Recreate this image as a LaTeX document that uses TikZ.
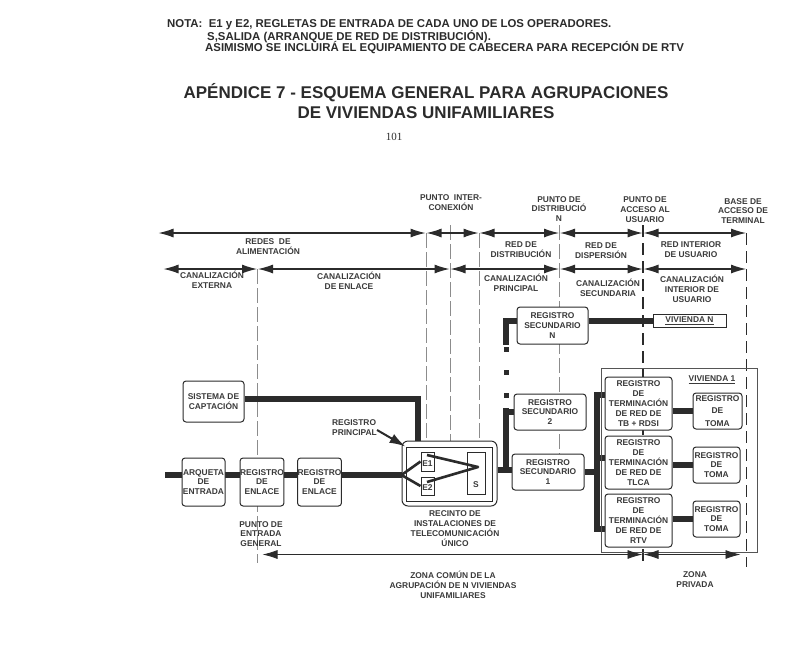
\documentclass[tikz,border=0pt]{standalone}
\usepackage{fontspec}
\setmainfont{Liberation Sans}
\newfontfamily\numfont{Liberation Serif}
\definecolor{inkdark}{HTML}{2B2B2B}
\definecolor{inktext}{HTML}{3A3A3A}
\definecolor{inkthin}{HTML}{8C8C8C}
\usetikzlibrary{arrows.meta,positioning,backgrounds}
\begin{document}
\begin{tikzpicture}[
  x=1pt,y=-1pt,
  lbl/.style={inner sep=0,align=center,text=inktext,font=\fontsize{8.4}{9.9}\selectfont\bfseries},
  regbox/.style 2 args={draw=inkdark,line width=1,rounded corners=3,fill=white,inner sep=0,align=center,
    minimum width=#1,minimum height=#2,text=inktext,font=\fontsize{8.4}{9.9}\selectfont\bfseries},
  sqbox/.style 2 args={draw=inkdark,line width=1,fill=white,inner sep=0,align=center,
    minimum width=#1,minimum height=#2,text=inktext,font=\fontsize{8.4}{9.9}\selectfont\bfseries},
  note/.style={anchor=west,inner sep=0,text=inkdark,font=\fontsize{11.4}{13}\selectfont\bfseries},
  head/.style={inner sep=0,align=center,text=inkdark,font=\fontsize{17}{20}\selectfont\bfseries},
  wire/.style={line width=5.5,inkdark},
  feed/.style={line width=2.6,inkdark,line join=round},
  dot/.style={fill=inkdark,inner sep=0,minimum size=5},
  dim/.style={{Latex[length=15pt,width=9pt]}-{Latex[length=15pt,width=9pt]},line width=1.1,inkdark,shorten <=.5pt,shorten >=.5pt},
  tick/.style={line width=.5,inkthin,dash pattern=on 15pt off 4pt},
  tickb/.style={line width=1.2,inkdark,dash pattern=on 12pt off 6pt}]
\useasboundingbox (0,0) rectangle (786,665);
% heading
\node[note] (nota1) at (167,25) {NOTA:\ \ E1 y E2, REGLETAS DE ENTRADA DE CADA UNO DE LOS OPERADORES.};
\node[note] (nota2) at (207,37) {S,SALIDA (ARRANQUE DE RED DE DISTRIBUCIÓN).};
\node[note] (nota3) at (205,48) {ASIMISMO SE INCLUIRÁ EL EQUIPAMIENTO DE CABECERA PARA RECEPCIÓN DE RTV};
\node[head] (titulo) at (426,101) {APÉNDICE 7 - ESQUEMA GENERAL PARA AGRUPACIONES\\DE VIVIENDAS UNIFAMILIARES};
\node[inner sep=0,text=inkdark,font=\fontsize{11}{13}\numfont] (pagina) at (394,137) {101};
% boxes
\node[regbox={61}{41}] (capta) at (213.5,401.5) {SISTEMA DE\\CAPTACIÓN};
\node[regbox={43}{48}] (arqueta) at (203.5,482) {ARQUETA\\DE\\ENTRADA};
\node[regbox={42}{48}] (enlace1) at (262,482) {REGISTRO\\DE\\ENLACE};
\node[regbox={43}{48}] (enlace2) at (319.5,482) {REGISTRO\\DE\\ENLACE};
\node[regbox={95}{65},rounded corners=6] (recinto) at (449.5,473.5) {};
\node[sqbox={86}{54}] (inner) at (449,474) {};
\node[sqbox={13}{19}] (e1) at (427.5,461.5) {\fontsize{7.6}{8.5}\selectfont ~\\E1};
\node[sqbox={13}{18}] (e2) at (427.5,486) {\fontsize{7.6}{8.5}\selectfont ~\\E2};
\node[sqbox={18}{42}] (salida) at (476,473) {~\\~\\~\\S};
\node[regbox={71}{37}] (secn) at (552.5,325.5) {REGISTRO\\SECUNDARIO\\N};
\node[regbox={72}{36}] (sec2) at (550,412) {REGISTRO\\SECUNDARIO\\2};
\node[regbox={72}{36}] (sec1) at (548,472) {REGISTRO\\SECUNDARIO\\1};
\node[sqbox={73}{13}] (vivn) at (689.5,321) {\underline{VIVIENDA N}};
\node[sqbox={156}{184},draw=inkdark!80,fill=none] (viv1) at (679,460) {};
\node[regbox={67}{53}] (tb) at (638.5,403.5) {REGISTRO\\DE\\TERMINACIÓN\\DE RED DE\\TB + RDSI};
\node[regbox={67}{53}] (tlca) at (638.5,462.5) {REGISTRO\\DE\\TERMINACIÓN\\DE RED DE\\TLCA};
\node[regbox={67}{53}] (rtv) at (638.5,520.5) {REGISTRO\\DE\\TERMINACIÓN\\DE RED DE\\RTV};
\node[regbox={49}{36}] (toma1) at (717.5,411) {REGISTRO\\[3pt]DE\\[3pt]TOMA};
\node[regbox={47}{36}] (toma2) at (716.5,465) {REGISTRO\\DE\\TOMA};
\node[regbox={47}{36}] (toma3) at (716.5,519) {REGISTRO\\DE\\TOMA};
\node[dot] (dot1) at (506,349) {};
\node[dot] (dot2) at (506,372) {};
\node[dot] (dot3) at (506,395) {};
% labels
\node[lbl] (redes) at (268,247) {REDES\ \ DE\\ALIMENTACIÓN};
\node[lbl] (externa) at (212,280) {CANALIZACIÓN\\EXTERNA};
\node[lbl] (deenlace) at (349,281) {CANALIZACIÓN\\DE ENLACE};
\node[lbl] (pinter) at (451,202.5) {PUNTO\ \ INTER-\\CONEXIÓN};
\node[lbl] (pdist) at (559,209) {PUNTO DE\\DISTRIBUCIÓ\\N};
\node[lbl] (pacceso) at (645,209.5) {PUNTO DE\\ACCESO AL\\USUARIO};
\node[lbl] (pbase) at (743,211) {BASE DE\\ACCESO DE\\TERMINAL};
\node[lbl] (reddist) at (521,250) {RED DE\\DISTRIBUCIÓN};
\node[lbl] (reddisp) at (601,250.5) {RED DE\\DISPERSIÓN};
\node[lbl] (redint) at (691,249.5) {RED INTERIOR\\DE USUARIO};
\node[lbl] (canprin) at (516,283) {CANALIZACIÓN\\PRINCIPAL};
\node[lbl] (cansec) at (608,288) {CANALIZACIÓN\\SECUNDARIA};
\node[lbl] (canint) at (692,289) {CANALIZACIÓN\\INTERIOR DE\\USUARIO};
\node[lbl,align=left] (regprin) at (354.5,428) {REGISTRO\\PRINCIPAL};
\node[lbl] (pentrada) at (261,534) {PUNTO DE\\ENTRADA\\GENERAL};
\node[lbl] (recintotxt) at (455,528.5) {RECINTO DE\\INSTALACIONES DE\\TELECOMUNICACIÓN\\ÚNICO};
\node[lbl] (zonacomun) at (453,584.5) {ZONA COMÚN DE LA\\AGRUPACIÓN DE N VIVIENDAS\\UNIFAMILIARES};
\node[lbl] (zonapriv) at (695,580) {ZONA\\PRIVADA};
\node[lbl] (viv1txt) at (712,380) {\underline{VIVIENDA 1}};
% ends of the dimension rows
\coordinate (a0) at (158,233);
\coordinate (a1) at (426,233);
\coordinate (a2) at (479,233);
\coordinate (a3) at (559.5,233);
\coordinate (a4) at (643,233);
\coordinate (a5) at (746.5,233);
\coordinate (b0) at (163,269);
\coordinate (b1) at (257.5,269);
\coordinate (b2) at (450,269);
\coordinate (b3) at (559.5,269);
\coordinate (b4) at (643,269);
\coordinate (b5) at (746.5,269);
\coordinate (c0) at (262,554.5);
\coordinate (c1) at (643,554.5);
\coordinate (c2) at (741,554.5);
\draw[dim] (a0) -- (a1);
\draw[dim] (a1) -- (a2);
\draw[dim] (a2) -- (a3);
\draw[dim] (a3) -- (a4);
\draw[dim] (a4) -- (a5);
\draw[dim] (b0) -- (b1);
\draw[dim] (b1) -- (b2);
\draw[dim] (b2) -- (b3);
\draw[dim] (b3) -- (b4);
\draw[dim] (b4) -- (b5);
\draw[dim,line width=.8] (c0) -- (c1);
\draw[dim,line width=.8] (c1) -- (c2);
% wires
\coordinate (tronco) at (165,475);
\coordinate (codo) at (418,399);
\coordinate (salto) at (506,470);
\coordinate (tap) at (506,408);
\coordinate (tapn) at (506,345);
\coordinate (bus1) at (597,395);
\coordinate (bus2) at (597,458);
\coordinate (bus3) at (597,529);
\coordinate (bustop) at (597,392);
\coordinate (busbot) at (597,532);
\begin{scope}[on background layer]
\draw[tick] (b1) -- (257.5,563);
\draw[tick] (a1) -- (a1 |- recinto.north);
\draw[tick] (450,225) -- (450 ,441);
\draw[tick] (a2) -- (a2 |- recinto.north);
\draw[tick] (559.5,225) -- (559.5,454);
\draw[tickb] (643,225) -- (643,566);
\draw[tickb] (746.5,233) -- (746.5,567);
\draw[wire] (tronco) -- (recinto.west |- tronco);
\draw[wire,line join=miter] (capta.east |- codo) -- (codo) -- (codo |- recinto.north) -- ++(0,6);
\draw[wire] (recinto.east |- salto) -- (sec1.west |- salto);
\draw[wire] (tap) -- (salto);
\draw[wire] (sec2.west) -- (sec2.west -| tap);
\draw[wire] (secn.west |- vivn) -| (tapn);
\draw[wire] (secn.east |- vivn) -- (vivn.west);
\draw[wire] (bustop) -- (busbot);
\draw[wire] (sec1.east) -- (sec1.east -| bustop);
\draw[wire] (bus1) -- (bus1 -| tb.west);
\draw[wire] (bus2) -- (bus2 -| tlca.west);
\draw[wire] (bus3) -- (bus3 -| rtv.west);
\draw[wire] (toma1.west) -- (toma1.west -| tb.east);
\draw[wire] (toma2.west) -- (toma2.west -| tlca.east);
\draw[wire] (toma3.west) -- (toma3.west -| rtv.east);
\end{scope}
% inside the enclosure
\coordinate (e1p) at (427,455);
\coordinate (e2p) at (427,482);
\coordinate (sp) at (478,467);
\draw[feed] (e1.west) -- (recinto.west |- tronco) -- (e2.west);
\draw[feed] (e1p) -- (sp) -- (e2p);
\draw[-{Latex[length=16pt,width=10pt]},line width=2,inkdark] (regprin.east) ++(0,2) -- (inner.north west);
\end{tikzpicture}
\end{document}
